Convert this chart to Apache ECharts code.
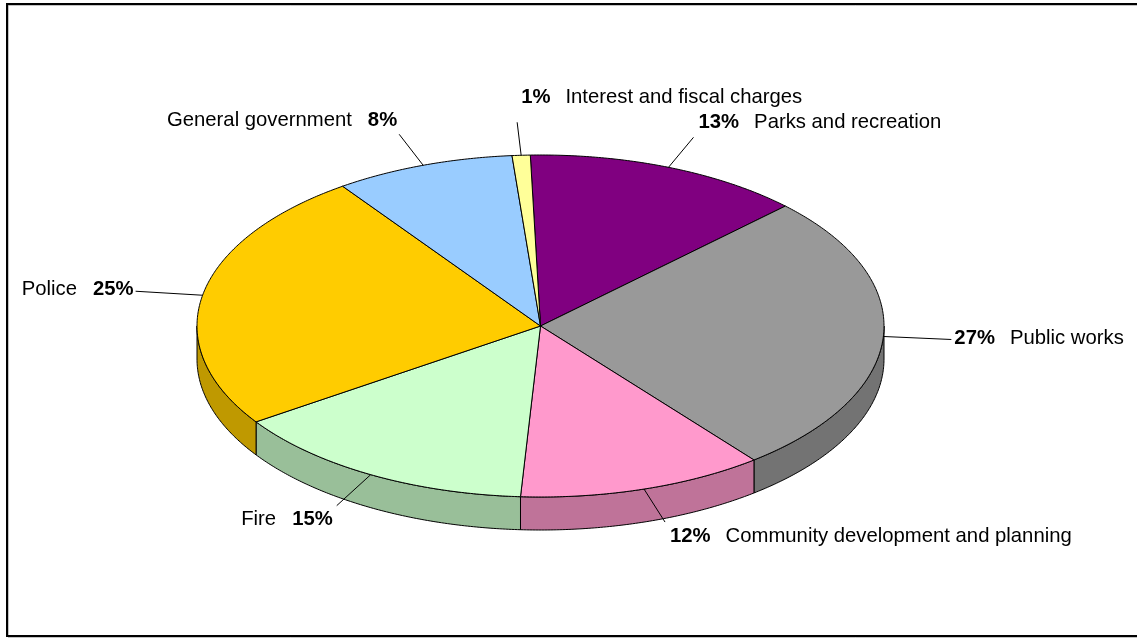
<!DOCTYPE html>
<html>
<head>
<meta charset="utf-8">
<script src="https://cdn.jsdelivr.net/npm/echarts@6/dist/echarts.min.js"></script>
<style>
  html, body { margin: 0; padding: 0; background: #fff; }
  #chart { width: 1137px; height: 641px; }
</style>
</head>
<body>
<div id="chart"></div>
<script>
// ---- data (clockwise from the top) ----
const categories = [
  'Parks and recreation',
  'Public works',
  'Community development and planning',
  'Fire',
  'Police',
  'General government',
  'Interest and fiscal charges'
];
const values = [13.1, 26.7, 11.6, 14.6, 24.7, 8.45, 0.85];
const topColors = ['#800080', '#999999', '#FF99CC', '#CCFFCC', '#FFCC00', '#99CCFF', '#FFFF99'];
const sideColors = ['#600060', '#737373', '#BF7399', '#99BF99', '#BF9900', '#7399BF', '#BFBF73'];

// ---- layout (not data) ----
const geo = { cx: 540.5, cy: 326, rx: 343.5, ry: 171, depth: 33, startAngle: -1.7 };
// leader end offset from the anchor point, text offset from the leader end, text side
const labelLayout = [
  { ex: 25, ey: -30, tx: 5, ty: -15, side: 'right' },
  { ex: 68, ey: 3, tx: 3, ty: -1, side: 'right' },
  { ex: 21, ey: 33, tx: 5, ty: 14, side: 'right' },
  { ex: -34, ey: 31, tx: -4, ty: 14, side: 'left' },
  { ex: -67, ey: -4, tx: -2, ty: -2, side: 'left' },
  { ex: -24, ey: -31, tx: -2, ty: -14, side: 'left' },
  { ex: -4, ey: -33, tx: 4, ty: -25, side: 'right' }
];

const total = values.reduce((a, b) => a + b, 0);
const FONT = '"Liberation Sans", Arial, sans-serif';
const FS = 20.3;

function pt(a, dy) {
  const r = a * Math.PI / 180;
  return [geo.cx + geo.rx * Math.sin(r), geo.cy - geo.ry * Math.cos(r) + (dy || 0)];
}
function arc(a0, a1, dy) {
  const pts = [];
  const n = Math.max(2, Math.ceil(Math.abs(a1 - a0) / 0.5));
  for (let k = 0; k <= n; k++) pts.push(pt(a0 + (a1 - a0) * k / n, dy));
  return pts;
}

function renderItem(params, api) {
  const i = params.dataIndex;
  const v = api.value(0);
  let before = 0;
  for (let j = 0; j < i; j++) before += values[j];
  const a0 = geo.startAngle + before / total * 360;
  const a1 = a0 + v / total * 360;
  const children = [];
  // side face (front half only)
  const s = Math.max(a0, 90), e = Math.min(a1, 270);
  if (s < e) {
    const pts = arc(s, e, 0).concat(arc(e, s, geo.depth));
    children.push({
      type: 'polygon', shape: { points: pts },
      style: { fill: sideColors[i], stroke: '#000', lineWidth: 1 }, z2: 1
    });
  }
  // top face
  const topPts = [[geo.cx, geo.cy]].concat(arc(a0, a1, 0));
  children.push({
    type: 'polygon', shape: { points: topPts },
    style: { fill: topColors[i], stroke: '#000', lineWidth: 1 }, z2: 2
  });
  // leader line + label
  const mid = (a0 + a1) / 2;
  const anchor = pt(mid, 0);
  const L = labelLayout[i];
  const end = [anchor[0] + L.ex, anchor[1] + L.ey];
  children.push({
    type: 'line', shape: { x1: anchor[0], y1: anchor[1], x2: end[0], y2: end[1] },
    style: { stroke: '#000', lineWidth: 1 }, z2: 3
  });
  const pct = Math.round(v / total * 100) + '%';
  const text = L.side === 'right'
    ? '{b|' + pct + '}{n|' + categories[i] + '}'
    : '{n|' + categories[i] + '}{b|' + pct + '}';
  children.push({
    type: 'text', z2: 4,
    style: {
      x: end[0] + L.tx, y: end[1] + L.ty,
      text: text,
      align: L.side === 'right' ? 'left' : 'right',
      verticalAlign: 'middle',
      fill: '#000',
      rich: {
        b: { fontFamily: FONT, fontSize: FS, fontWeight: 'bold', fill: '#000',
             padding: L.side === 'right' ? [0, 15, 0, 0] : [0, 0, 0, 16] },
        n: { fontFamily: FONT, fontSize: FS, fill: '#000' }
      }
    }
  });
  return { type: 'group', children: children };
}

const chart = echarts.init(document.getElementById('chart'), null, { renderer: 'canvas' });
chart.setOption({
  animation: false,
  backgroundColor: '#fff',
  graphic: [
    { type: 'rect', shape: { x: 8, y: 5, width: 1140, height: 632 },
      style: { fill: 'none', stroke: '#888', lineWidth: 1 }, z: 0 },
    { type: 'rect', shape: { x: 7, y: 4, width: 1140, height: 632 },
      style: { fill: 'none', stroke: '#000', lineWidth: 2 }, z: 0 }
  ],
  series: [{
    type: 'custom',
    coordinateSystem: 'none',
    renderItem: renderItem,
    data: values.map((v, i) => ({ name: categories[i], value: [v] }))
  }]
});
</script>
</body>
</html>
